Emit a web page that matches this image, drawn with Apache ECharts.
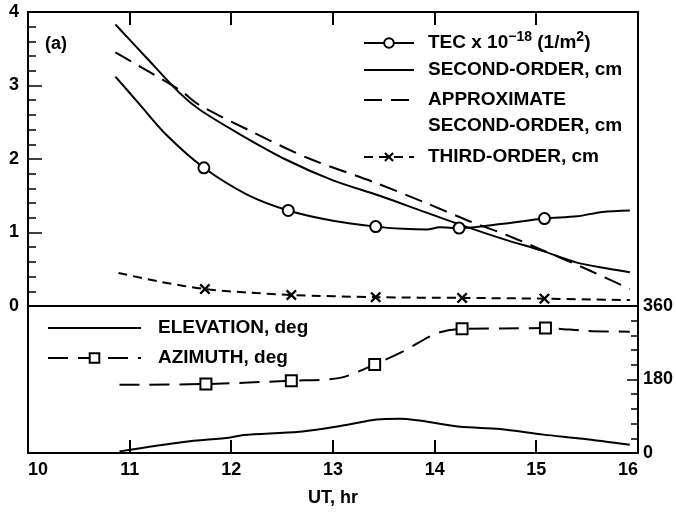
<!DOCTYPE html>
<html>
<head>
<meta charset="utf-8">
<script src="https://cdn.jsdelivr.net/npm/echarts@6/dist/echarts.min.js"></script>
<style>
html,body{margin:0;padding:0;background:#fff;}
#chart{width:676px;height:514px;}
</style>
</head>
<body>
<div id="chart"></div>
<script>
// values, UT in hours
var tecT = [10.86, 11.1, 11.36, 11.73, 12.15, 12.56, 13.0, 13.42, 13.69, 13.92, 14.05, 14.24, 14.67, 15.08, 15.4, 15.65, 15.92];
var tecV = [3.12, 2.74, 2.33, 1.88, 1.52, 1.30, 1.16, 1.08, 1.05, 1.04, 1.07, 1.06, 1.12, 1.19, 1.22, 1.28, 1.30];
var tecMarks = [3, 5, 7, 11, 13];

var secT = [10.86, 11.17, 11.49, 11.69, 12.08, 12.54, 13.0, 13.46, 13.9, 14.35, 14.7, 15.06, 15.4, 15.7, 15.92];
var secV = [3.83, 3.37, 2.90, 2.67, 2.34, 1.99, 1.71, 1.50, 1.28, 1.06, 0.90, 0.75, 0.59, 0.51, 0.46];

var apxT = [10.86, 11.49, 11.69, 12.22, 12.74, 13.41, 13.9, 14.35, 14.7, 15.06, 15.53, 15.92];
var apxV = [3.45, 2.94, 2.73, 2.36, 2.02, 1.68, 1.41, 1.15, 0.97, 0.76, 0.48, 0.23];

var thdT = [10.89, 11.3, 11.74, 12.2, 12.59, 13.42, 14.27, 15.08, 15.92];
var thdV = [0.45, 0.33, 0.23, 0.18, 0.15, 0.12, 0.11, 0.10, 0.08];
var thdMarks = [2, 4, 5, 6, 7];

var aziT = [10.9, 11.75, 12.59, 13.07, 13.41, 13.69, 14.02, 14.27, 14.67, 15.09, 15.5, 15.92];
var aziV = [167, 169, 177, 184, 217, 249, 293, 304, 305, 306, 299, 297];
var aziMarks = [1, 2, 4, 7, 9];

var elvT = [10.9, 11.53, 11.99, 12.12, 12.67, 13.07, 13.43, 13.66, 14.25, 14.64, 15.07, 15.46, 15.92];
var elvV = [4, 27, 38, 44, 52, 66, 82, 84, 64, 59, 45, 35, 20];

// inner UT ticks on the top and bottom frame
var xTicks = [11, 12, 13, 14, 15];

var FONT = 'Liberation Sans, Arial, sans-serif';

function pts(ts, vs, marks) {
  return ts.map(function (t, i) {
    var p = {value: [t, vs[i]]};
    if (!marks || marks.indexOf(i) < 0) p.symbol = 'none';
    return p;
  });
}

var xPath = 'path://M0,1.5 L1.5,0 L5,3.5 L8.5,0 L10,1.5 L6.5,5 L10,8.5 L8.5,10 L5,6.5 L1.5,10 L0,8.5 L3.5,5 Z';

function lineSt() { return {color: '#000', width: 2}; }
function tickSt(len, inside) { return {show: true, inside: inside, length: len, lineStyle: {color: '#000', width: 1.5}}; }
function lbl(margin) { return {fontFamily: FONT, fontSize: 18, fontWeight: 'bold', color: '#000', margin: margin}; }

// plain frame line, nothing else
function frameX(grid, pos) {
  return {gridIndex: grid, type: 'value', min: 10, max: 16, position: pos,
    axisLine: {show: true, onZero: false, lineStyle: lineSt()},
    axisTick: {show: false}, axisLabel: {show: false}, splitLine: {show: false}};
}

// one legend per entry so each row sits where it does in the figure
function legendOne(name, top, fmt, pad, plain) {
  return {
    data: [plain ? {name: name, itemStyle: {opacity: 0}} : name],
    left: 363, top: top, padding: 0,
    itemWidth: 50, itemHeight: 12,
    formatter: fmt,
    textStyle: {
      fontFamily: FONT, fontSize: 19, fontWeight: 'bold', lineHeight: 26, color: '#000',
      padding: pad || [0, 0, 0, 9],
      rich: {sup: {fontFamily: FONT, fontSize: 14, fontWeight: 'bold', lineHeight: 14, verticalAlign: 'top', color: '#000'}}
    },
    selectedMode: false
  };
}

var chart = echarts.init(document.getElementById('chart'));
chart.setOption({
  animation: false,
  backgroundColor: '#fff',
  grid: [
    {left: 28, right: 38, top: 12, height: 294},
    {left: 28, right: 38, top: 306, height: 147}
  ],
  xAxis: [
    frameX(0, 'top'),
    frameX(0, 'bottom'),
    {gridIndex: 1, type: 'value', min: 10, max: 16, interval: 1, position: 'bottom',
      name: 'UT, hr', nameLocation: 'middle', nameGap: 36,
      nameTextStyle: {fontFamily: FONT, fontSize: 18, fontWeight: 'bold', color: '#000'},
      axisLine: {show: true, onZero: false, lineStyle: lineSt()},
      axisTick: {show: false},
      axisLabel: Object.assign(lbl(8), {alignMinLabel: 'left', alignMaxLabel: 'right'}),
      splitLine: {show: false}}
  ],
  yAxis: [
    {gridIndex: 0, type: 'value', min: 0, max: 4, interval: 1, position: 'left',
      axisLine: {show: true, onZero: false, lineStyle: lineSt()},
      axisTick: tickSt(14, true),
      minorTick: {show: true, splitNumber: 5, length: 8, lineStyle: {color: '#000', width: 1.5}},
      axisLabel: lbl(9),
      splitLine: {show: false}},
    {gridIndex: 0, type: 'value', min: 0, max: 4, position: 'right',
      axisLine: {show: true, onZero: false, lineStyle: lineSt()},
      axisTick: {show: false}, axisLabel: {show: false}, splitLine: {show: false}},
    {gridIndex: 1, type: 'value', min: 0, max: 360, interval: 180, position: 'right',
      axisLine: {show: true, onZero: false, lineStyle: lineSt()},
      axisTick: tickSt(11, true),
      minorTick: {show: true, splitNumber: 5, length: 7, lineStyle: {color: '#000', width: 1.5}},
      axisLabel: lbl(5),
      splitLine: {show: false}},
    {gridIndex: 1, type: 'value', min: 0, max: 360, position: 'left',
      axisLine: {show: true, onZero: false, lineStyle: lineSt()},
      axisTick: {show: false}, axisLabel: {show: false}, splitLine: {show: false}}
  ],
  legend: [
    legendOne('TEC', 30, function () { return 'TEC x 10{sup|\u221218} (1/m{sup|2})'; }),
    legendOne('SECOND-ORDER, cm', 57, null, null, true),
    legendOne('APPROXIMATE SECOND-ORDER, cm', 61, function () { return 'APPROXIMATE\nSECOND-ORDER, cm'; }, [26, 0, 0, 9], true),
    legendOne('THIRD-ORDER, cm', 144),
    {data: [{name: 'ELEVATION, deg', itemStyle: {opacity: 0}}, 'AZIMUTH, deg'], orient: 'vertical', left: 47, top: 315, padding: 0,
      itemWidth: 93, itemHeight: 12, itemGap: 4, selectedMode: false,
      textStyle: {fontFamily: FONT, fontSize: 19, fontWeight: 'bold', lineHeight: 26, color: '#000', padding: [0, 0, 0, 12]}}
  ],
  graphic: [
    {id: 'panel', type: 'text', left: 45, top: 35, style: {text: '(a)', font: 'bold 18px ' + FONT, fill: '#000'}}
  ],
  series: [
    {name: 'TEC', type: 'line', xAxisIndex: 0, yAxisIndex: 0, smooth: 0.3,
      data: pts(tecT, tecV, tecMarks), symbol: 'emptyCircle', symbolSize: 11,
      lineStyle: lineSt(), itemStyle: {color: '#000', borderWidth: 2}},
    {name: 'SECOND-ORDER, cm', type: 'line', xAxisIndex: 0, yAxisIndex: 0, smooth: 0.3,
      data: pts(secT, secV), symbol: 'none', lineStyle: lineSt(), itemStyle: {color: '#000'}},
    {name: 'APPROXIMATE SECOND-ORDER, cm', type: 'line', xAxisIndex: 0, yAxisIndex: 0, smooth: 0.3,
      data: pts(apxT, apxV), symbol: 'none',
      lineStyle: {color: '#000', width: 2, type: [18, 9]}, itemStyle: {color: '#000'}},
    {name: 'THIRD-ORDER, cm', type: 'line', xAxisIndex: 0, yAxisIndex: 0, smooth: 0.3,
      data: pts(thdT, thdV, thdMarks), symbol: xPath, symbolSize: 11,
      lineStyle: {color: '#000', width: 2, type: [9, 6]}, itemStyle: {color: '#000'}},
    {name: 'ELEVATION, deg', type: 'line', xAxisIndex: 2, yAxisIndex: 2, smooth: 0.3,
      data: pts(elvT, elvV), symbol: 'none', lineStyle: lineSt(), itemStyle: {color: '#000'}},
    {name: 'AZIMUTH, deg', type: 'line', xAxisIndex: 2, yAxisIndex: 2, smooth: 0.3,
      data: pts(aziT, aziV, aziMarks), symbol: 'emptyRect', symbolSize: 11,
      lineStyle: {color: '#000', width: 2, type: [20, 10]}, itemStyle: {color: '#000', borderWidth: 2}}
  ]
});

// inward ticks on the top and bottom frame, placed through the axes' own scales
var yTop = chart.convertToPixel({yAxisIndex: 0}, 4);
var yBot = chart.convertToPixel({yAxisIndex: 2}, 0);
var tickEls = [];
xTicks.forEach(function (t, i) {
  var xt = Math.round(chart.convertToPixel({xAxisIndex: 0}, t));
  var xb = Math.round(chart.convertToPixel({xAxisIndex: 2}, t));
  tickEls.push({id: 'tt' + i, type: 'rect', z: 100, silent: true,
    shape: {x: xt - 1, y: Math.round(yTop), width: 2, height: 13}, style: {fill: '#000'}});
  tickEls.push({id: 'tb' + i, type: 'rect', z: 100, silent: true,
    shape: {x: xb - 1, y: Math.round(yBot) - 13, width: 2, height: 13}, style: {fill: '#000'}});
});
chart.setOption({graphic: tickEls});
</script>
</body>
</html>
